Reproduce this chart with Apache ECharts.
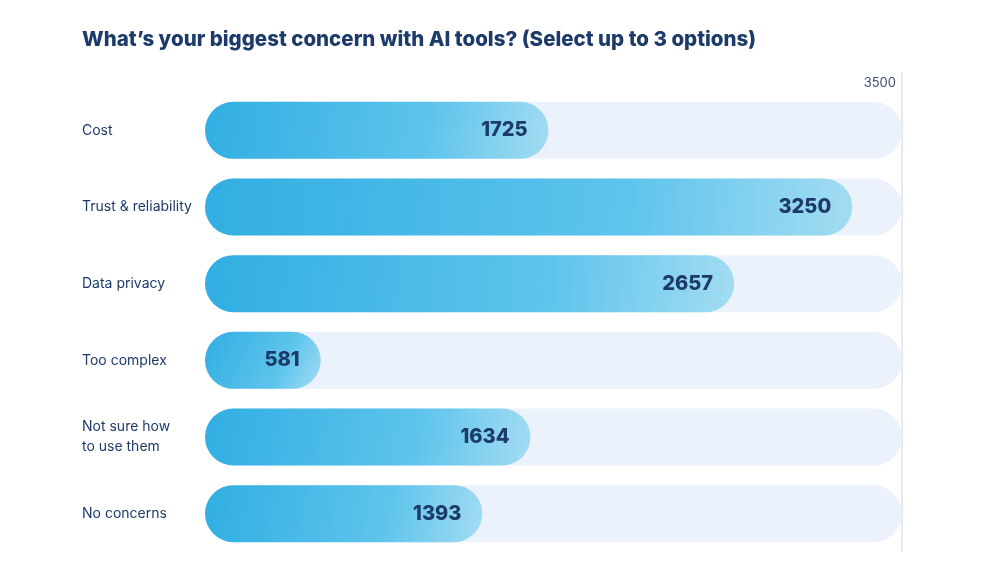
<!DOCTYPE html>
<html><head><meta charset="utf-8">
<script src="https://cdn.jsdelivr.net/npm/echarts@6/dist/echarts.min.js"></script>
<style>html,body{margin:0;padding:0;background:#fff}#c{width:986px;height:584px}</style>
</head><body><div id="c"></div>
<script>
const categories = ['Cost', 'Trust & reliability', 'Data privacy', 'Too complex', 'Not sure how\nto use them', 'No concerns'];
const values = [1725, 3250, 2657, 581, 1634, 1393];
const axisMax = 3500;
const tickLabels = ['3500'];

const chart = echarts.init(document.getElementById('c'));
const navy = '#1D3B6A';
chart.setOption({
  animation: false,
  title: {
    text: 'What\u2019s your biggest concern with AI tools? (Select up to 3 options)',
    left: 82, top: 29, padding: 0,
    textStyle: { fontFamily: 'Inter', fontWeight: 800, fontSize: 20.5, color: navy }
  },
  grid: [
    { left: 205, right: 84, top: 72, bottom: 32 },
    { left: 205, right: 84, top: 92, bottom: 32 }
  ],
  xAxis: [
    { type: 'value', gridIndex: 0, min: 0, max: axisMax, interval: axisMax, position: 'top',
      axisLine: { show: false }, axisTick: { show: false },
      splitLine: { show: true, showMinLine: false, lineStyle: { color: '#DCE3EC', width: 1.5 } },
      axisLabel: { inside: true, margin: 5, align: 'right', verticalAlign: 'top', padding: [0, 6, 0, 0],
        fontFamily: 'Inter', fontSize: 13, color: '#3A4E6E',
        formatter: v => (String(v) === tickLabels[0] ? tickLabels[0] : '') } },
    { type: 'value', gridIndex: 1, min: 0, max: axisMax, show: false }
  ],
  yAxis: [
    { type: 'category', gridIndex: 0, show: false, data: [] },
    { type: 'category', gridIndex: 1, data: categories, inverse: true,
      axisLine: { show: false }, axisTick: { show: false },
      axisLabel: { align: 'left', margin: 123, fontFamily: 'Inter', fontSize: 14, lineHeight: 20, color: navy } }
  ],
  series: [{
    type: 'bar', xAxisIndex: 1, yAxisIndex: 1, data: values, barWidth: 57,
    showBackground: true,
    backgroundStyle: { color: '#EBF2FB', borderRadius: 28.5 },
    itemStyle: {
      borderRadius: 28.5,
      color: new echarts.graphic.LinearGradient(0, 0, 1, 1, [
        { offset: 0, color: '#31AEE2' },
        { offset: 0.65, color: '#5EC4EC' },
        { offset: 1, color: '#A3DCF2' }
      ])
    },
    label: { show: true, position: 'insideRight', distance: 21, fontFamily: 'Inter', fontWeight: 800, fontSize: 20, color: navy }
  }]
});
</script></body></html>
